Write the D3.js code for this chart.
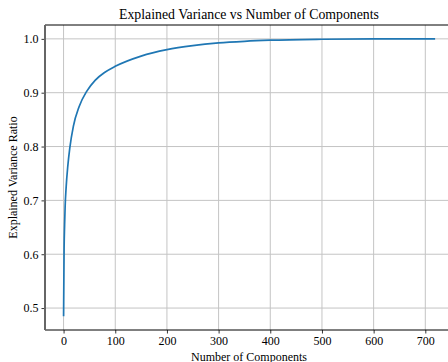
<!DOCTYPE html>
<html>
<head>
<meta charset="utf-8">
<script src="https://cdn.jsdelivr.net/npm/d3@7"></script>
<style>
  body { margin: 0; background: #fff; }
  svg { display: block; }
  text { font-family: "Liberation Serif", "Times New Roman", serif; fill: #000; }
</style>
</head>
<body>
<div id="chart"></div>
<script>
var components = [0, 1, 2, 3, 5, 8, 12, 19, 30, 45, 61, 80, 100, 150, 200, 250, 300, 350, 400, 500, 600, 719];
var cumVariance = [0.485, 0.61, 0.655, 0.688, 0.725, 0.762, 0.797, 0.838, 0.874, 0.903, 0.923, 0.938, 0.949, 0.968, 0.980, 0.9875, 0.9925, 0.9955, 0.9975, 0.9993, 0.9999, 1.0];
var xTicks = [0, 100, 200, 300, 400, 500, 600, 700];
var yTicks = [0.5, 0.6, 0.7, 0.8, 0.9, 1.0];

var width = 448,
    height = 362,
    plotLeft = 45,
    plotRight = 453.7,
    plotTop = 25,
    plotBottom = 330;

var data = components.map(function(c, i) { return { n: c, v: cumVariance[i] }; });

var svg = d3.select("#chart").append("svg")
    .attr("width", width)
    .attr("height", height);

/* matplotlib style 5% margins */
var xMax = d3.max(components), yMin = d3.min(cumVariance), yMax = d3.max(cumVariance);
var x = d3.scaleLinear()
    .domain([-0.05 * xMax, xMax * 1.05])
    .range([plotLeft, plotRight]);
var y = d3.scaleLinear()
    .domain([yMin - 0.05 * (yMax - yMin), yMax + 0.05 * (yMax - yMin)])
    .range([plotBottom, plotTop]);

/* grid */
svg.append("g")
    .selectAll("line")
    .data(xTicks)
    .enter().append("line")
    .attr("x1", function(d) { return x(d); })
    .attr("x2", function(d) { return x(d); })
    .attr("y1", plotTop)
    .attr("y2", plotBottom)
    .attr("stroke", "#c4c4c4")
    .attr("stroke-width", 1);

svg.append("g")
    .selectAll("line")
    .data(yTicks)
    .enter().append("line")
    .attr("x1", plotLeft)
    .attr("x2", plotRight)
    .attr("y1", function(d) { return y(d); })
    .attr("y2", function(d) { return y(d); })
    .attr("stroke", "#c4c4c4")
    .attr("stroke-width", 1);

/* curve */
var line = d3.line()
    .x(function(d) { return x(d.n); })
    .y(function(d) { return y(d.v); })
    .curve(d3.curveMonotoneX);

svg.append("path")
    .datum(data)
    .attr("d", line)
    .attr("fill", "none")
    .attr("stroke", "#1f77b4")
    .attr("stroke-width", 1.7);

/* axes */
var xAxis = d3.axisBottom(x).tickValues(xTicks).tickSize(3.5).tickPadding(3).tickFormat(d3.format("d"));
var yAxis = d3.axisLeft(y).tickValues(yTicks).tickSize(3.5).tickPadding(3).tickFormat(d3.format(".1f"));

var gx = svg.append("g")
    .attr("transform", "translate(0," + plotBottom + ")")
    .call(xAxis);
var gy = svg.append("g")
    .attr("transform", "translate(" + plotLeft + ",0)")
    .call(yAxis);

[gx, gy].forEach(function(g) {
    g.select(".domain").remove();
    g.selectAll(".tick line").attr("stroke", "#000").attr("stroke-width", 0.8);
    g.selectAll(".tick text").attr("font-size", 12).attr("font-family", "Liberation Serif, serif");
});

/* spines */
svg.append("line")
    .attr("x1", plotLeft).attr("x2", plotRight)
    .attr("y1", plotTop).attr("y2", plotTop)
    .attr("stroke", "#000").attr("stroke-width", 1);
svg.append("line")
    .attr("x1", plotLeft).attr("x2", plotRight)
    .attr("y1", plotBottom).attr("y2", plotBottom)
    .attr("stroke", "#000").attr("stroke-width", 1);
svg.append("line")
    .attr("x1", plotLeft).attr("x2", plotLeft)
    .attr("y1", plotTop).attr("y2", plotBottom)
    .attr("stroke", "#666").attr("stroke-width", 2);

/* labels */
svg.append("text")
    .attr("x", 249)
    .attr("y", 19)
    .attr("text-anchor", "middle")
    .attr("font-size", 13.8)
    .text("Explained Variance vs Number of Components");

svg.append("text")
    .attr("x", 249)
    .attr("y", 361)
    .attr("text-anchor", "middle")
    .attr("font-size", 12)
    .text("Number of Components");

svg.append("text")
    .attr("transform", "translate(17," + ((plotTop + plotBottom) / 2) + ") rotate(-90)")
    .attr("text-anchor", "middle")
    .attr("font-size", 12)
    .text("Explained Variance Ratio");
</script>
</body>
</html>
